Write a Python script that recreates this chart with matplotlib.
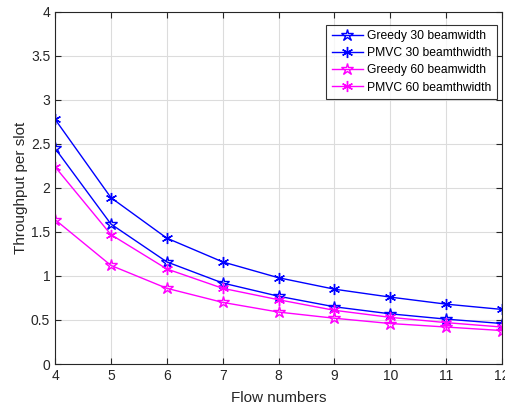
import numpy as np
import matplotlib
matplotlib.use('Agg')
import matplotlib.pyplot as plt

plt.rcParams['font.family'] = ['Liberation Sans', 'DejaVu Sans']

# data
flows = [4, 5, 6, 7, 8, 9, 10, 11, 12]
greedy30 = [2.45, 1.59, 1.16, 0.92, 0.77, 0.65, 0.57, 0.51, 0.46]
pmvc30 = [2.78, 1.89, 1.43, 1.16, 0.98, 0.85, 0.76, 0.68, 0.62]
greedy60 = [1.64, 1.12, 0.86, 0.70, 0.59, 0.52, 0.46, 0.42, 0.38]
pmvc60 = [2.24, 1.47, 1.08, 0.86, 0.73, 0.61, 0.53, 0.47, 0.42]

labels = ['Greedy 30 beamwidth', 'PMVC 30 beamthwidth',
          'Greedy 60 beamwidth', 'PMVC 60 beamthwidth']

fig = plt.figure(figsize=(5.05, 4.09), dpi=100)
ax = fig.add_axes([0.109, 0.110, 0.885, 0.861])

blue = '#0000ff'
mag = '#ff00ff'
ax.plot(flows, greedy30, color=blue, marker='*', mfc='none', ms=9, mew=1, lw=1, label=labels[0])
ax.plot(flows, pmvc30, color=blue, marker=(6, 2, 0), ms=8, mew=1, lw=1, label=labels[1])
ax.plot(flows, greedy60, color=mag, marker='*', mfc='none', ms=9, mew=1, lw=1, label=labels[2])
ax.plot(flows, pmvc60, color=mag, marker=(6, 2, 0), ms=8, mew=1, lw=1, label=labels[3])

ax.set_xlim(4, 12)
ax.set_ylim(0, 4)
ax.set_xticks(flows)
ax.set_yticks(np.arange(0, 4.01, 0.5))
ax.set_yticklabels(['0', '0.5', '1', '1.5', '2', '2.5', '3', '3.5', '4'])
ax.grid(True, color='#dcdcdc', lw=0.8)
ax.set_axisbelow(True)
ax.tick_params(direction='in', length=4, labelsize=10, colors='#262626',
               top=True, right=True)
for s in ax.spines.values():
    s.set_color('#262626')
    s.set_linewidth(0.8)

ax.set_xlabel('Flow numbers', fontsize=11, color='#262626', labelpad=6)
ax.set_ylabel('Throughput per slot', fontsize=11, color='#262626', labelpad=2)

leg = ax.legend(loc='upper right', bbox_to_anchor=(0.989, 0.963), fontsize=8.7,
                frameon=True, fancybox=False, edgecolor='black',
                handlelength=2.6, borderpad=0.45, labelspacing=0.42,
                handletextpad=0.35, borderaxespad=0)
leg.get_frame().set_linewidth(0.8)

fig.savefig('out.png', dpi=100)
